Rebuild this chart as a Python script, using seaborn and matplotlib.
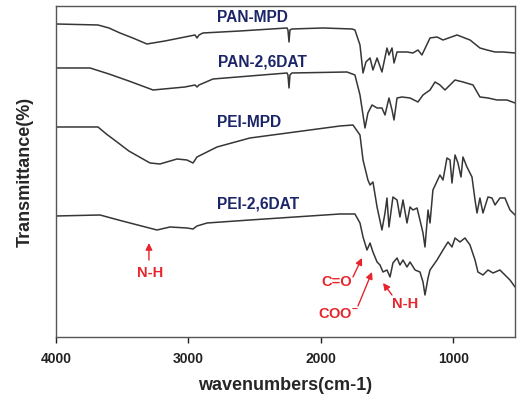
import numpy as np
import pandas as pd
import matplotlib
matplotlib.use("Agg")
import matplotlib.pyplot as plt
import seaborn as sns

# ---------------- data ----------------
series_names = ["PAN-MPD", "PAN-2,6DAT", "PEI-MPD", "PEI-2,6DAT"]

pan_mpd_wn = [4000, 3683, 3600, 3517, 3420, 3313, 3177, 3026, 2950, 2935, 2920, 2890, 2610, 2255, 2248, 2240,
              2233, 2218, 1983, 1764, 1742, 1704, 1681, 1659, 1628, 1606, 1575, 1538, 1500, 1485,
              1462, 1447, 1424, 1349, 1304, 1266, 1236, 1175, 1122, 1077, 971, 873, 798, 745,
              684, 624, 533]
pan_mpd_t = [313, 312, 309, 304, 299, 293, 296, 300, 302, 299, 302, 304, 306, 309, 307, 295,
             307, 308, 309, 308, 307, 292, 264, 275, 279, 267, 279, 265, 289, 282,
             289, 274, 285, 285, 284, 287, 282, 299, 300, 297, 302, 297, 289, 287,
             285, 285, 284]

pan_dat_wn = [4000, 3743, 3600, 3450, 3267, 3026, 2950, 2935, 2920, 2814, 2255, 2248, 2240, 2233, 2218,
              1802, 1742, 1704, 1666, 1644, 1613, 1575, 1538, 1515, 1485, 1462, 1447, 1424,
              1387, 1326, 1266, 1228, 1175, 1137, 1100, 1062, 986, 926, 850, 798, 737, 669,
              594, 533]
pan_dat_t = [269, 269, 263, 256, 247, 250, 252, 250, 252, 258, 264, 262, 249, 262, 264,
             265, 262, 242, 209, 224, 232, 229, 229, 222, 239, 227, 217, 239,
             240, 239, 235, 242, 247, 255, 252, 247, 257, 255, 252, 240, 239, 237,
             237, 234]

pei_mpd_wn = [4000, 3683, 3620, 3539, 3450, 3290, 3215, 3086, 3011, 2965, 2935, 2784, 2535, 1855, 1757,
              1704, 1681, 1644, 1628, 1606, 1575, 1538, 1515, 1500, 1485, 1455, 1424, 1402,
              1379, 1349, 1326, 1304, 1273, 1251, 1228, 1213, 1190, 1175, 1153, 1100, 1077,
              1047, 1024, 1009, 986, 964, 941, 926, 896, 858, 835, 820, 798, 775, 737, 707,
              684, 647, 609, 571, 533]
pei_mpd_t = [210, 210, 203, 195, 186, 174, 173, 178, 177, 174, 180, 190, 199, 211, 212,
             202, 177, 157, 152, 155, 130, 107, 124, 139, 110, 140, 137, 120,
             137, 114, 130, 127, 129, 117, 104, 90, 127, 114, 147, 162, 157,
             179, 177, 154, 182, 174, 160, 180, 170, 160, 137, 124, 139, 124, 140, 139,
             132, 139, 139, 127, 122]

pei_dat_wn = [4000, 3668, 3500, 3237, 3139, 3011, 2965, 2935, 2859, 2535, 1855, 1742, 1704, 1681,
              1651, 1628, 1606, 1575, 1553, 1530, 1500, 1477, 1455, 1424, 1402, 1379, 1349,
              1326, 1288, 1251, 1228, 1213, 1190, 1175, 1122, 1077, 1039, 1009, 986, 949,
              911, 873, 835, 813, 775, 737, 699, 647, 571, 533]
pei_dat_t = [121, 122, 116, 107, 110, 109, 108, 111, 114, 117, 123, 123, 114, 100,
             87, 94, 85, 75, 72, 65, 67, 60, 74, 79, 72, 77, 70,
             75, 67, 65, 55, 42, 59, 67, 77, 87, 95, 90, 99, 95,
             99, 92, 77, 65, 62, 67, 64, 67, 57, 50]

# annotations: label, text position (wn, T), arrow tail, arrow head
annot_labels = ["N-H", "C=O", "COO$^{-}$", "N-H"]
annot_text_pos = [(3290, 64), (1878, 55), (1870, 23), (1364, 33)]
annot_tail = [(3298, 77), (1757, 60), (1719, 31), (1462, 42)]
annot_head = [(3298, 94), (1689, 79), (1613, 65), (1530, 54)]

# curve label positions (left edge wn, T)
label_pos = [(2784, 319), (2776, 275), (2784, 214), (2784, 133)]

# ---------------- build long-form table ----------------
frames = []
for name, wn, t in zip(series_names,
                       [pan_mpd_wn, pan_dat_wn, pei_mpd_wn, pei_dat_wn],
                       [pan_mpd_t, pan_dat_t, pei_mpd_t, pei_dat_t]):
    frames.append(pd.DataFrame({"wavenumber": wn, "T": t, "sample": name}))
df = pd.concat(frames, ignore_index=True)

sns.set_style("ticks")
plt.rcParams["font.family"] = ["Liberation Sans", "DejaVu Sans"]
plt.rcParams["mathtext.default"] = "regular"

fig = plt.figure(figsize=(5.2, 3.99), dpi=100)
ax = fig.add_axes([0.1077, 0.1554, 0.8827, 0.8296])

line_color = "#363636"
sns.lineplot(data=df, x="wavenumber", y="T", hue="sample", units="sample",
             estimator=None, sort=False, palette=[line_color] * 4,
             linewidth=1.1, legend=False, ax=ax)

ax.set_xlim(4000, 533)
ax.set_ylim(0, 331)
ax.set_xticks([4000, 3000, 2000, 1000])
ax.set_xticklabels(["4000", "3000", "2000", "1000"], fontweight="bold", fontsize=10)
ax.set_yticks([])
ax.tick_params(axis="x", direction="out", length=4, width=1, pad=7, colors="#222222")
for sp in ax.spines.values():
    sp.set_color("#555555")
    sp.set_linewidth(1.0)
    sp.set_visible(True)

ax.set_xlabel("wavenumbers(cm-1)", fontsize=13, fontweight="bold", labelpad=8)
ax.set_ylabel("Transmittance(%)", fontsize=13, fontweight="bold", labelpad=16)

navy = "#1b2568"
for name, (x, y) in zip(series_names, label_pos):
    ax.text(x, y, name, color=navy, fontsize=11.2, fontweight="bold",
            ha="left", va="center")

red = "#e5262c"
for lab, tp, tail, head in zip(annot_labels, annot_text_pos, annot_tail, annot_head):
    ax.text(tp[0], tp[1], lab, color=red, fontsize=10.5, fontweight="bold",
            ha="center", va="center")
    ax.annotate("", xy=head, xytext=tail,
                arrowprops=dict(arrowstyle="-|>", color=red, lw=1.0,
                                mutation_scale=10, shrinkA=0, shrinkB=0))

fig.savefig("out.png", dpi=100)
